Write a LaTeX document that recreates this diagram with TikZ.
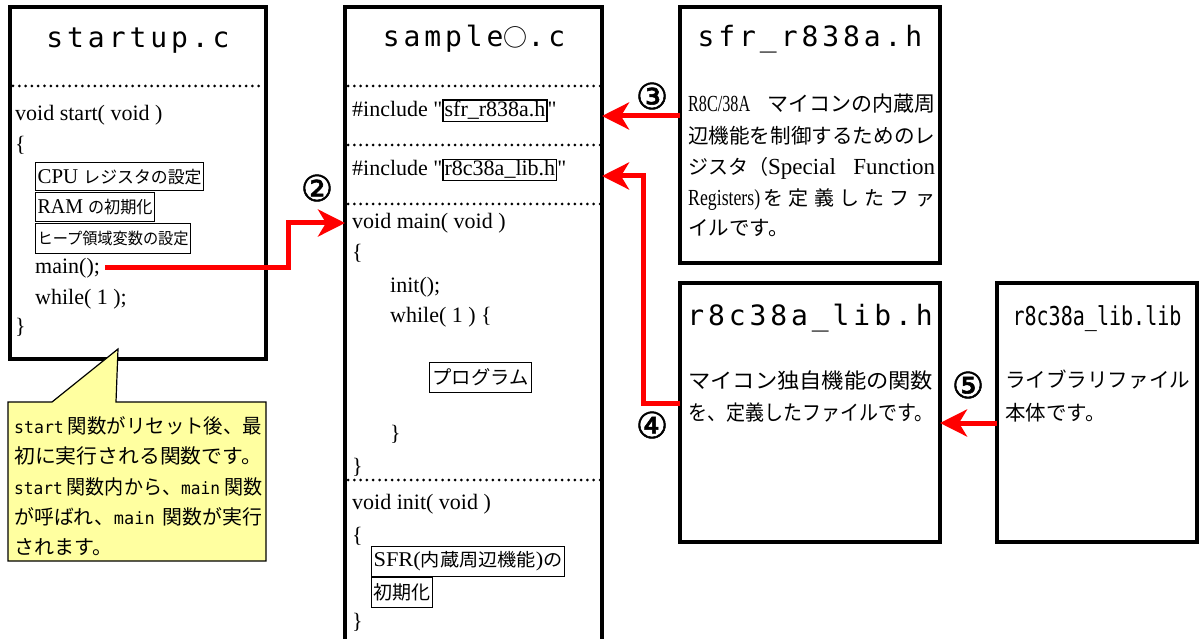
\documentclass[tikz,border=0pt]{standalone}
\usepackage{fontspec}
\usepackage{graphicx}
\usetikzlibrary{arrows.meta}
\setmainfont{Liberation Serif}
\newfontfamily\qf{Liberation Serif}
\newfontfamily\jp{Noto Sans CJK JP}
\newfontfamily\ttlfont[LetterSpace=14]{DejaVu Sans Mono}
\newfontfamily\cmono{DejaVu Sans Mono}
\newfontfamily\cnum[FakeBold=1.5]{DejaVu Sans}
\newcommand\fitw[2]{\resizebox{#1}{\height}{#2}}
\newcommand\fs[1]{\fontsize{#1}{#1}\selectfont}
\newcommand\incbox[1]{{\fboxsep=1pt\fboxrule=1.2pt\fbox{#1}}}
\newcommand\dq{{\qf"}}
\definecolor{callfill}{RGB}{255,255,160}
\begin{document}
\begin{tikzpicture}[x=1pt,y=-1pt,
  filebox/.style={draw, line width=4pt, outer sep=0pt, inner sep=0pt, anchor=north west},
  frm/.style={draw, line width=1.2pt, inner sep=0pt, anchor=north west, font=\fs{21}},
  ln/.style={anchor=base west, inner sep=0pt, font=\fs{22}},
  bodyln/.style={anchor=base west, inner sep=0pt, font=\fs{20}},
  ttl/.style={anchor=base, inner sep=0pt, font=\ttlfont\fs{28}},
  cnumlbl/.style={inner sep=0pt, font=\cnum\fs{36}},
  dotline/.style={line width=3pt, line cap=round, dash pattern=on 0pt off 6.3pt},
  redarr/.style={draw=red, line width=5pt, -{Stealth[length=27pt,width=27pt,inset=8pt]}}
]
\fill[white] (0,0) rectangle (1199,639);
\useasboundingbox (0,0) rectangle (1199,639);

% boxes
\node[filebox, minimum width=256pt, minimum height=352pt] (startup) at (10,7) {};
\node[filebox, minimum width=257pt, minimum height=645pt] (sample) at (345,7) {};
\node[filebox, minimum width=260pt, minimum height=256pt] (sfr) at (680,7) {};
\node[filebox, minimum width=260pt, minimum height=259pt] (libh) at (680,283) {};
\node[filebox, minimum width=200pt, minimum height=259pt] (lib) at (997,283) {};

% startup.c
\node[ttl] (t1) at (138,48) {startup.c};
\draw[dotline] (13,86) -- (264,86);
\node[ln] (s1) at (15,121) {void start( void )};
\node[ln] (s2) at (15,152) {\{};
\node[frm, minimum width=168pt, minimum height=28pt] (s3) at (35,162) {\fitw{164pt}{CPU {\jp\fs{17}レジスタの設定}}};
\node[frm, minimum width=119pt, minimum height=29pt] (s4) at (35,192) {\fitw{115pt}{RAM {\jp\fs{17}の初期化}}};
\node[frm, minimum width=155pt, minimum height=30pt] (s5) at (35,223) {\fitw{151pt}{\jp\fs{16}ヒープ領域変数の設定}};
\node[ln] (mainc) at (35,273) {main();};
\node[ln] (s7) at (35,304) {while( 1 );};
\node[ln] (s8) at (15,333) {\}};

% sample.c
\node[ttl] (t2) at (474,47) {sample{\jp\fs{24}○}.c};
\draw[dotline] (348,86) -- (600,86);
\draw[dotline] (348,145) -- (600,145);
\draw[dotline] (348,204) -- (600,204);
\draw[dotline] (348,480) -- (600,480);
\node[ln] (inc1) at (352,117) {\#include \dq\incbox{sfr\_r838a.h}\dq};
\node[ln] (inc2) at (352,176) {\#include \dq\incbox{r8c38a\_lib.h}\dq};
\node[ln] (m1) at (352,229) {void main( void )};
\node[ln] (m2) at (352,259) {\{};
\node[ln] (m3) at (390,292) {init();};
\node[ln] (m4) at (390,322) {while( 1 ) \{};
\node[frm, minimum width=102pt, minimum height=30pt] (m5) at (429,362) {\fitw{96pt}{\jp\fs{19}プログラム}};
\node[ln] (m6) at (390,440) {\}};
\node[ln] (m7) at (352,473) {\}};
\node[ln] (i1) at (352,509) {void init( void )};
\node[ln] (i2) at (352,542) {\{};
\node[frm, minimum width=193pt, minimum height=30pt] (i3) at (371,546) {\fitw{189pt}{SFR({\jp\fs{18}内蔵周辺機能}){\jp\fs{18}の}}};
\node[frm, minimum width=61pt, minimum height=30pt] (i4) at (371,577) {\fitw{57pt}{\jp\fs{19}初期化}};
\node[ln] (i5) at (352,628) {\}};

% sfr_r838a.h
\node[ttl] (t3) at (810,47) {sfr\_r838a.h};
\node[bodyln] (f1) at (688,112) {\makebox[247pt][l]{\fitw{62pt}{\fs{23}R8C/38A}\hfill{\jp\fs{21}マイコンの内蔵周}}};
\node[bodyln] (f2) at (688,144) {\fitw{247pt}{\jp\fs{20.5}辺機能を制御するためのレ}};
\node[bodyln] (f3) at (688,175) {\makebox[247pt][l]{{\jp\fs{20}ジスタ（}{\fs{23}Special}\hfill{\fs{23}Function}}};
\node[bodyln] (f4) at (688,206) {\makebox[247pt][l]{\fitw{72pt}{\fs{23}Registers)}\,{\jp\fs{20}を\hfill 定\hfill 義\hfill し\hfill た\hfill フ\hfill ァ}}};
\node[bodyln] (f5) at (688,236) {\jp\fs{20.5}イルです。};

% r8c38a_lib.h
\node[ttl] (t4) at (810,325) {r8c38a\_lib.h};
\node[bodyln] (h1) at (688,388) {\fitw{245pt}{\jp\fs{21}マイコン独自機能の関数}};
\node[bodyln] (h2) at (688,420) {\fitw{245pt}{\jp\fs{21}を、定義したファイルです。}};

% r8c38a_lib.lib
\node[anchor=base, inner sep=0pt] (t5) at (1097,325) {\fitw{169pt}{\cmono\fs{26}r8c38a\_lib.lib}};
\node[bodyln] (l1) at (1005,387) {\fitw{185pt}{\jp\fs{20.5}ライブラリファイル}};
\node[bodyln] (l2) at (1005,420) {\jp\fs{20.5}本体です。};

% callout
\draw[fill=callfill, line width=1.2pt] (8,402) -- (52,402) -- (118,349) -- (116,402) -- (266,402) -- (266,561) -- (8,561) -- cycle;
\node[bodyln] (c1) at (14,433) {\fitw{248pt}{{\cmono\fs{17}start}\hspace{4pt}{\jp\fs{20}関数がリセット後、最}}};
\node[bodyln] (c2) at (14,463) {\fitw{248pt}{\jp\fs{20}初に実行される関数です。}};
\node[bodyln] (c3) at (14,494) {\fitw{248pt}{{\cmono\fs{17}start}\hspace{4pt}{\jp\fs{20}関数内から、}{\cmono\fs{17}main}\hspace{4pt}{\jp\fs{20}関数}}};
\node[bodyln] (c4) at (14,524) {\fitw{248pt}{{\jp\fs{20}が呼ばれ、}{\cmono\fs{17}main}\hspace{8pt}{\jp\fs{20}関数が実行}}};
\node[bodyln] (c5) at (14,554) {\jp\fs{20}されます。};

% connectors
\coordinate (k2) at (288,223);
\draw[redarr] ([xshift=5pt]mainc.east) -| (k2) -- (k2 -| sample.west);
\coordinate (y3) at (0,116);
\draw[redarr] (sfr.west |- y3) -- (sample.east |- y3);
\coordinate (k4) at (643,176);
\draw[redarr] ([yshift=9pt]libh.west) -| (k4) -- (k4 -| sample.east);
\coordinate (y5) at (0,423);
\draw[redarr] (lib.west |- y5) -- (libh.east |- y5);

% labels
\node[cnumlbl] (n2) at (317,188) {②};
\node[cnumlbl] (n3) at (652,96) {③};
\node[cnumlbl] (n4) at (652,425) {④};
\node[cnumlbl] (n5) at (968,385) {⑤};
\end{tikzpicture}
\end{document}
